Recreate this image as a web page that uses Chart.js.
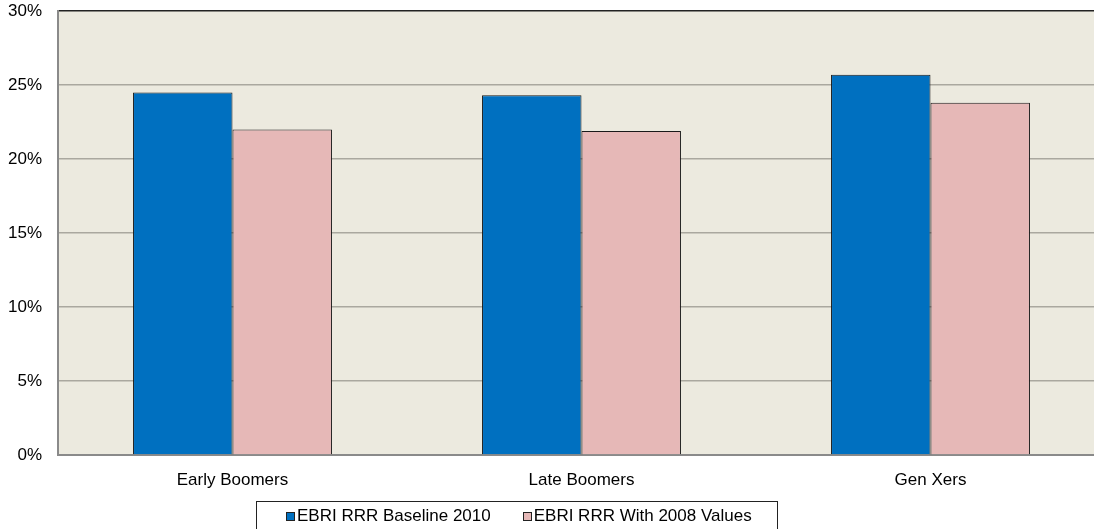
<!DOCTYPE html>
<html>
<head>
<meta charset="utf-8">
<script src="https://cdn.jsdelivr.net/npm/chart.js@4.4.1/dist/chart.umd.min.js"></script>
<style>
  html, body { margin: 0; padding: 0; background: #fff; overflow: hidden; width: 1094px; height: 529px; }
  #wrap { position: relative; width: 1094px; height: 529px; overflow: hidden; }
  #chart { position: absolute; left: 0; top: 0; }
  #legend {
    position: absolute; left: 256px; top: 501px; width: 522px; height: 40px;
    border: 1px solid #222; border-bottom: none; box-sizing: border-box;
    font-family: "Liberation Sans", Arial, Helvetica, sans-serif; font-size: 17px; color: #000;
    display: flex; align-items: flex-start; padding-left: 29px; padding-top: 1px;
  }
  .item { display: flex; align-items: center; height: 26px; white-space: nowrap; }
  .item + .item { margin-left: 32px; }
  .sw { width: 9px; height: 9px; border: 1px solid #222; margin-right: 2px; box-sizing: border-box; }
</style>
</head>
<body>
<div id="wrap">
  <canvas id="chart" width="1110" height="529"></canvas>
  <div id="legend"></div>
</div>
<script>
// chart data
const categories = ['Early Boomers', 'Late Boomers', 'Gen Xers'];
const baseline2010 = [24.5, 24.3, 25.7];
const with2008Values = [22.0, 21.9, 23.8];
const seriesLabels = ['EBRI RRR Baseline 2010', 'EBRI RRR With 2008 Values'];
const seriesColors = ['#0070C0', '#E6B8B7'];

const fontFamily = '"Liberation Sans", Arial, Helvetica, sans-serif';

// fill the plot area with the beige background
const plotBackground = {
    id: 'plotBackground',
    beforeDraw(chart) {
        const a = chart.chartArea;
        const ctx = chart.ctx;
        ctx.save();
        ctx.fillStyle = '#ECEADF';
        ctx.fillRect(a.left, a.top, a.right - a.left, a.bottom - a.top);
        ctx.restore();
    }
};

const ctx = document.getElementById('chart').getContext('2d');
const chart = new Chart(ctx, {
    type: 'bar',
    data: {
        labels: categories,
        datasets: [
            {
                label: seriesLabels[0],
                data: baseline2010,
                backgroundColor: seriesColors[0],
                borderColor: '#1a1a1a',
                borderWidth: 1
            },
            {
                label: seriesLabels[1],
                data: with2008Values,
                backgroundColor: seriesColors[1],
                borderColor: '#1a1a1a',
                borderWidth: 1
            }
        ]
    },
    options: {
        responsive: false,
        animation: false,
        devicePixelRatio: 1,
        layout: { padding: { top: 11, right: 5, left: 0, bottom: 0 } },
        datasets: { bar: { barPercentage: 1, categoryPercentage: 0.57 } },
        plugins: {
            legend: { display: false },
            tooltip: { enabled: false }
        },
        scales: {
            x: {
                grid: { display: false, drawTicks: false },
                border: { display: true, color: '#8a8a8a', width: 2 },
                ticks: { color: '#000', font: { family: fontFamily, size: 17 }, padding: 15 },
                afterFit(scale) {
                    scale.height = 74;
                    scale.paddingLeft = 0;
                    scale.paddingRight = 0;
                }
            },
            y: {
                min: 0,
                max: 30,
                ticks: {
                    stepSize: 5,
                    color: '#000',
                    font: { family: fontFamily, size: 17 },
                    padding: 16,
                    callback: v => v + '%'
                },
                grid: {
                    drawTicks: false,
                    lineWidth: 1.5,
                    color: c => c.tick.value === 30 ? '#222' : (c.tick.value === 0 ? '#8a8a8a' : '#aaa89f')
                },
                border: { display: true, color: '#8a8a8a', width: 2 },
                afterFit(scale) {
                    scale.width = 58;
                    scale.paddingTop = 0;
                    scale.paddingBottom = 0;
                }
            }
        }
    },
    plugins: [plotBackground]
});

// html legend built from the datasets
const legend = document.getElementById('legend');
chart.data.datasets.forEach(ds => {
    const item = document.createElement('div');
    item.className = 'item';
    const sw = document.createElement('span');
    sw.className = 'sw';
    sw.style.background = ds.backgroundColor;
    const txt = document.createElement('span');
    txt.textContent = ds.label;
    item.appendChild(sw);
    item.appendChild(txt);
    legend.appendChild(item);
});
</script>
</body>
</html>
